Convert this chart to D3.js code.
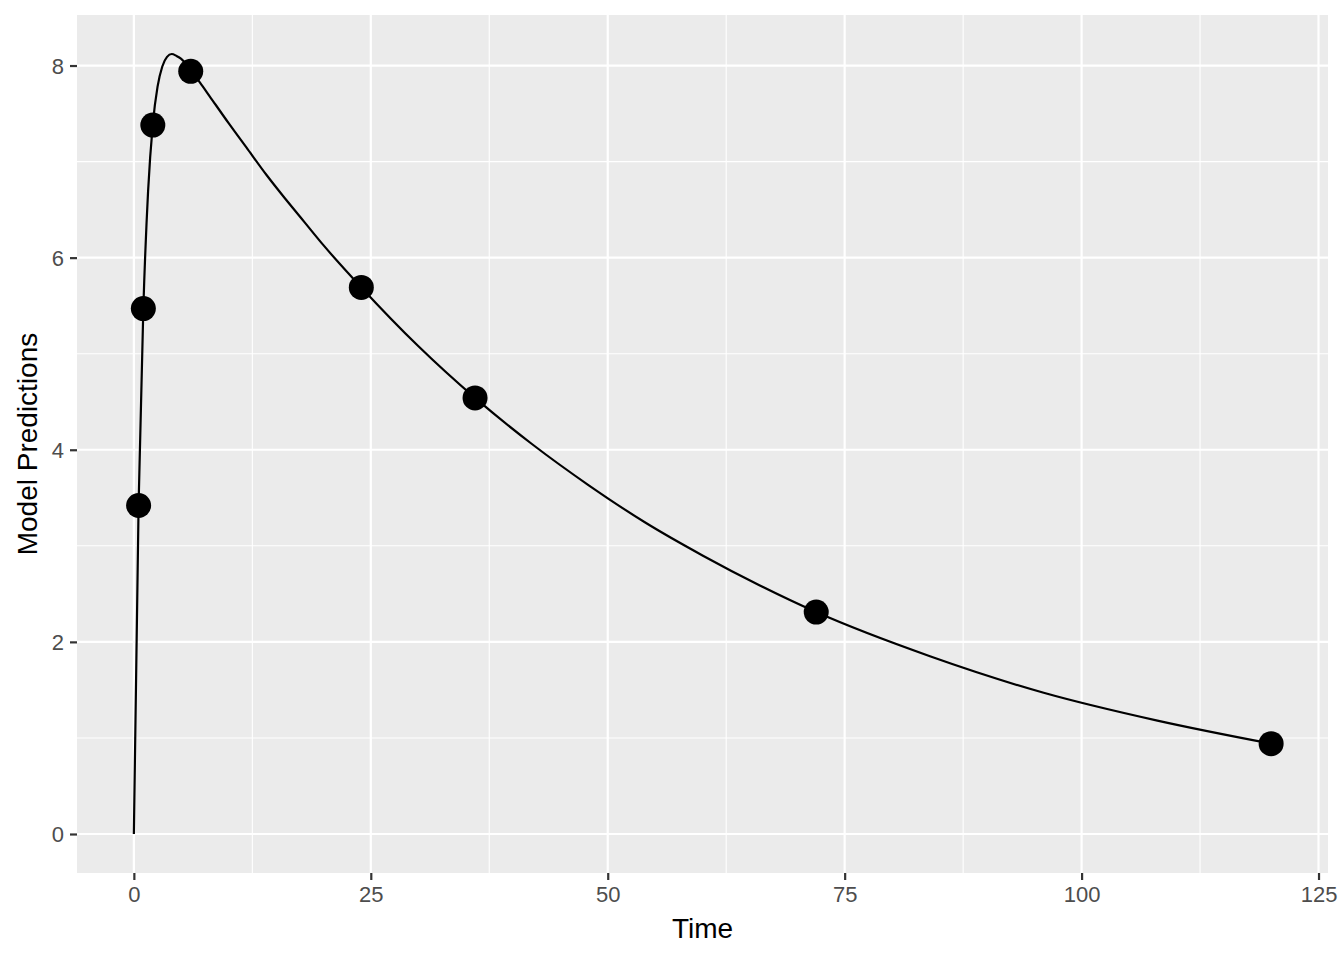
<!DOCTYPE html>
<meta charset="utf-8">
<style>
  body { margin: 0; background: #fff; }
  text { font-family: "Liberation Sans", Arial, sans-serif; }
</style>
<script src="https://d3js.org/d3.v7.min.js"></script>
<div id="my_dataviz"></div>
<script>

// observed points
var obsTime = [0.5, 1, 2, 6, 24, 36, 72, 120];
var obsPred = [3.42, 5.47, 7.38, 7.94, 5.69, 4.54, 2.31, 0.94];

// model curve
var curveTime = [0, 0.5, 1, 1.5, 2, 2.5, 3, 3.5, 4, 4.5, 5, 6, 7, 8, 10, 12, 14, 16, 18, 20, 24, 30, 36, 42, 48, 54, 60, 66, 72, 84, 96, 108, 120];
var curvePred = [0, 3.43, 5.47, 6.69, 7.39, 7.78, 7.99, 8.09, 8.12, 8.10, 8.07, 7.95, 7.82, 7.68, 7.40, 7.13, 6.86, 6.61, 6.37, 6.13, 5.69, 5.08, 4.54, 4.06, 3.63, 3.24, 2.90, 2.59, 2.31, 1.85, 1.47, 1.18, 0.94];

var xTicks = [0, 25, 50, 75, 100, 125];
var xMinor = [12.5, 37.5, 62.5, 87.5, 112.5];
var yTicks = [0, 2, 4, 6, 8];
var yMinor = [1, 3, 5, 7];

var W = 1344, H = 960;
var margin = {top: 15, right: 16, bottom: 87, left: 77},
    width = W - margin.left - margin.right,
    height = H - margin.top - margin.bottom;

var svg = d3.select("#my_dataviz")
  .append("svg")
    .attr("width", W)
    .attr("height", H)
  .append("g")
    .attr("transform", "translate(" + margin.left + "," + margin.top + ")");

var x = d3.scaleLinear().domain([-6, 126]).range([0, width]);
var y = d3.scaleLinear().domain([-0.406, 8.526]).range([height, 0]);

// panel
svg.append("rect")
  .attr("width", width)
  .attr("height", height)
  .attr("fill", "#EBEBEB");

// grid
svg.selectAll(".xminor").data(xMinor).enter().append("line")
  .attr("x1", d => x(d)).attr("x2", d => x(d))
  .attr("y1", 0).attr("y2", height)
  .attr("stroke", "#fff").attr("stroke-width", 1.1);
svg.selectAll(".yminor").data(yMinor).enter().append("line")
  .attr("y1", d => y(d)).attr("y2", d => y(d))
  .attr("x1", 0).attr("x2", width)
  .attr("stroke", "#fff").attr("stroke-width", 1.1);
svg.selectAll(".xmajor").data(xTicks).enter().append("line")
  .attr("x1", d => x(d)).attr("x2", d => x(d))
  .attr("y1", 0).attr("y2", height)
  .attr("stroke", "#fff").attr("stroke-width", 2.2);
svg.selectAll(".ymajor").data(yTicks).enter().append("line")
  .attr("y1", d => y(d)).attr("y2", d => y(d))
  .attr("x1", 0).attr("x2", width)
  .attr("stroke", "#fff").attr("stroke-width", 2.2);

// axes
var xAxis = svg.append("g")
  .attr("transform", "translate(0," + height + ")")
  .call(d3.axisBottom(x).tickValues(xTicks).tickSize(7).tickPadding(6));
var yAxis = svg.append("g")
  .call(d3.axisLeft(y).tickValues(yTicks).tickSize(7).tickPadding(6));
[xAxis, yAxis].forEach(function (a) {
  a.select(".domain").remove();
  a.selectAll(".tick line").attr("stroke", "#333").attr("stroke-width", 2.2);
  a.selectAll(".tick text")
    .attr("fill", "#4D4D4D")
    .style("font-size", "22px")
    .style("font-family", "Liberation Sans, Arial, sans-serif");
});
yAxis.selectAll(".tick text").attr("dy", "0.36em");

// curve
var line = d3.line()
  .curve(d3.curveMonotoneX)
  .x(function (d, i) { return x(curveTime[i]); })
  .y(function (d) { return y(d); });
svg.append("path")
  .datum(curvePred)
  .attr("fill", "none")
  .attr("stroke", "#000")
  .attr("stroke-width", 2.2)
  .attr("stroke-linejoin", "round")
  .attr("d", line);

// points
svg.append("g")
  .selectAll("circle")
  .data(obsPred)
  .enter()
  .append("circle")
    .attr("cx", function (d, i) { return x(obsTime[i]); })
    .attr("cy", function (d) { return y(d); })
    .attr("r", 12.5)
    .style("fill", "#000");

// axis titles
svg.append("text")
  .attr("x", width / 2)
  .attr("y", height + 65)
  .attr("text-anchor", "middle")
  .style("font-size", "28px")
  .text("Time");

svg.append("text")
  .attr("transform", "rotate(-90)")
  .attr("x", -height / 2)
  .attr("y", -40)
  .attr("text-anchor", "middle")
  .style("font-size", "28px")
  .text("Model Predictions");

</script>
